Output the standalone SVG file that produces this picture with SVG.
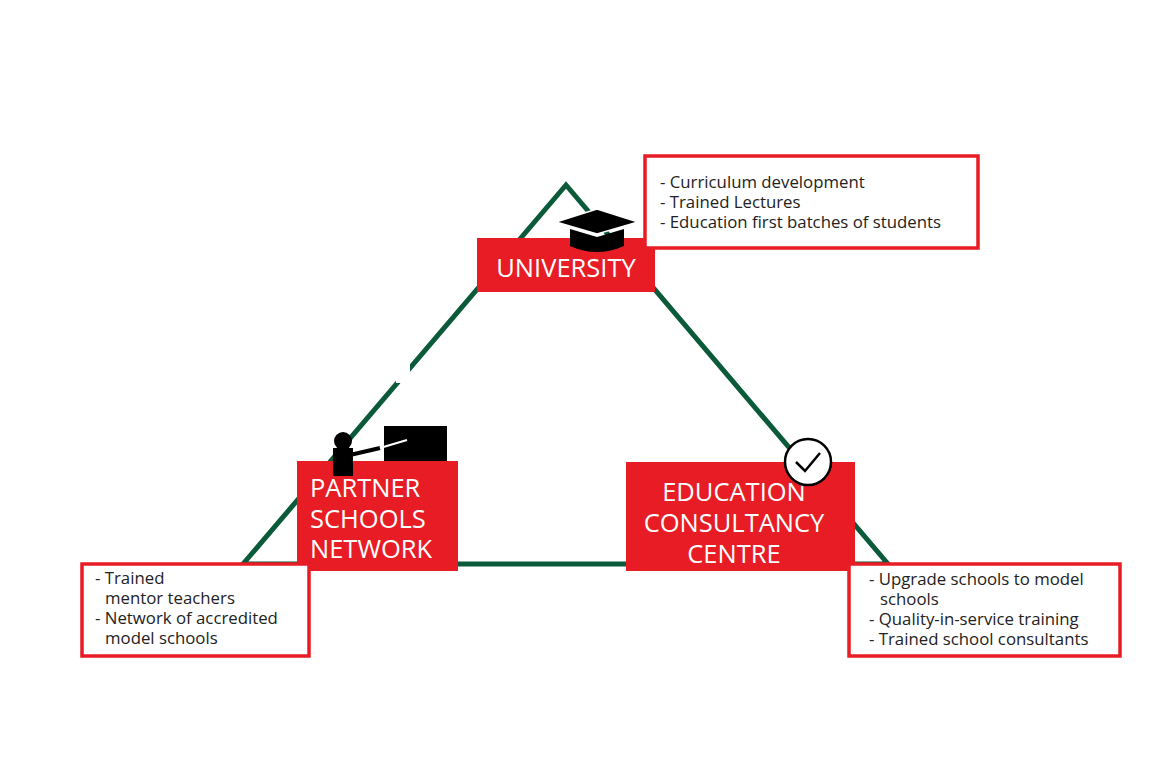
<svg xmlns="http://www.w3.org/2000/svg" width="1164" height="768" viewBox="0 0 1164 768">
<style>
.red{fill:#e81c24}
.info{fill:#fff;stroke:#e81c24;stroke-width:3.5}
.t{font-family:"Open Sans","Liberation Sans",sans-serif;fill:#fff;font-size:25.5px}
.s{font-family:"Open Sans","Liberation Sans",sans-serif;fill:#222;font-size:16.8px}
</style>
<rect width="1164" height="768" fill="#fff"/>
<g id="connectors">
<polygon points="566,185 243,564 888,564" fill="none" stroke="#0b5a3a" stroke-width="5" stroke-linejoin="miter"/>
<rect x="396" y="355" width="14" height="28" fill="#fff"/>
</g>
<g id="university">
<rect class="red" x="477" y="238" width="178" height="54"/>
<text class="t" x="566" y="277" text-anchor="middle">UNIVERSITY</text>
<path d="M556,222 L597,209 L638,222 L597,234 Z" fill="#000" stroke="#fff" stroke-width="1.5"/>
<path d="M570,229 L570,246 Q597,258 624,246 L624,229 L597,237 Z" fill="#000"/>
</g>
<g id="university-info">
<rect class="info" x="645" y="156" width="333" height="92"/>
<text class="s" x="660" y="188">- Curriculum development</text>
<text class="s" x="660" y="208">- Trained Lectures</text>
<text class="s" x="660" y="228">- Education first batches of students</text>
</g>
<g id="partner">
<rect class="red" x="297" y="461" width="161" height="110"/>
<text class="t" x="310" y="497">PARTNER</text>
<text class="t" x="310" y="528">SCHOOLS</text>
<text class="t" x="310" y="558">NETWORK</text>
<circle cx="343" cy="441" r="9" fill="#000"/>
<rect x="333" y="448" width="20" height="28" fill="#000"/>
<path d="M350,455 L380,448" stroke="#000" stroke-width="4"/>
<rect x="384" y="426" width="63" height="35" fill="#000"/>
<path d="M380,448 L407,440" stroke="#fff" stroke-width="2"/>
</g>
<g id="partner-info">
<rect class="info" x="82" y="564" width="227" height="92"/>
<text class="s" x="95" y="584">- Trained</text>
<text class="s" x="105" y="604">mentor teachers</text>
<text class="s" x="95" y="624">- Network of accredited</text>
<text class="s" x="105" y="644">model schools</text>
</g>
<g id="centre">
<rect class="red" x="626" y="462" width="229" height="109"/>
<text class="t" x="734" y="501" text-anchor="middle">EDUCATION</text>
<text class="t" x="734" y="532" text-anchor="middle">CONSULTANCY</text>
<text class="t" x="734" y="563" text-anchor="middle">CENTRE</text>
<circle cx="808" cy="462" r="23" fill="#fff" stroke="#000" stroke-width="2.5"/>
<path d="M796,462 L805,471 L820,453" fill="none" stroke="#000" stroke-width="2.5"/>
</g>
<g id="centre-info">
<rect class="info" x="849" y="564" width="271" height="92"/>
<text class="s" x="869" y="585">- Upgrade schools to model</text>
<text class="s" x="880" y="605">schools</text>
<text class="s" x="869" y="625">- Quality-in-service training</text>
<text class="s" x="869" y="645">- Trained school consultants</text>
</g>
</svg>
